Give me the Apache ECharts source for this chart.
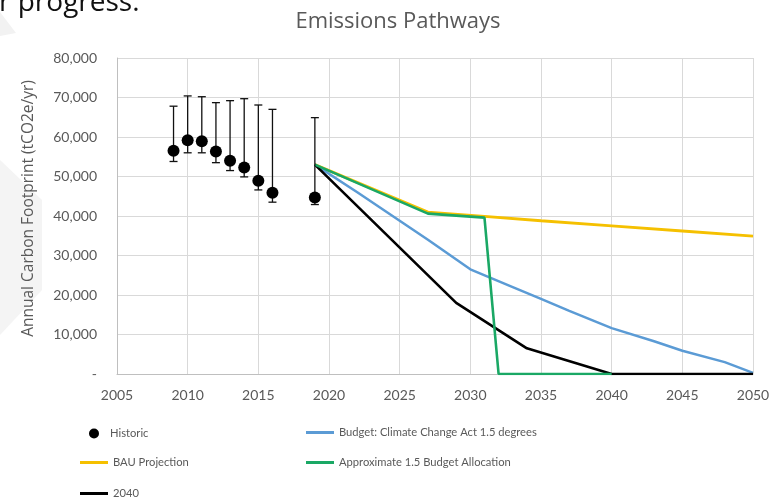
<!DOCTYPE html>
<html>
<head>
<meta charset="utf-8">
<script src="https://cdn.jsdelivr.net/npm/echarts@6/dist/echarts.min.js"></script>
<style>
html,body{margin:0;padding:0;background:#fff;}
#chart{width:780px;height:499px;}
</style>
</head>
<body>
<div id="chart"></div>
<script>
// ---- data ----
const chartTitle = 'Emissions Pathways';
const yAxisTitle = 'Annual Carbon Footprint (tCO2e/yr)';
const xTicks = [2005, 2010, 2015, 2020, 2025, 2030, 2035, 2040, 2045, 2050];

const historicYears  = [2009, 2010, 2011, 2012, 2013, 2014, 2015, 2016, 2019];
const historicValues = [56500, 59200, 58900, 56300, 54000, 52300, 48900, 45900, 44700];
const historicLow    = [53800, 56000, 56000, 53500, 51500, 49900, 46600, 43500, 42900];
const historicHigh   = [67800, 70400, 70200, 68700, 69200, 69700, 68100, 67000, 64900];

const bauYears  = [2019, 2027, 2031, 2035, 2040, 2045, 2050];
const bauValues = [53000, 41000, 39900, 38800, 37500, 36200, 34900];

const budgetYears  = [2019, 2022, 2024, 2027, 2030, 2033, 2035, 2037, 2040, 2043, 2045, 2048, 2050];
const budgetValues = [53000, 46000, 41200, 34000, 26500, 22000, 19000, 16000, 11600, 8300, 5900, 3000, 300];

const approxYears  = [2019, 2027, 2031, 2032, 2040];
const approxValues = [53000, 40600, 39600, 0, 0];

const path2040Years  = [2019, 2029, 2034, 2040, 2050];
const path2040Values = [53000, 18000, 6500, 0, 0];

const names = {
  historic: 'Historic',
  budget: 'Budget: Climate Change Act 1.5 degrees',
  bau: 'BAU Projection',
  approx: 'Approximate 1.5 Budget Allocation',
  p2040: '2040'
};

// ---- chart ----
const zip = (xs, ys) => xs.map((x, i) => [x, ys[i]]);
const gray = '#595959';
const chart = echarts.init(document.getElementById('chart'), null, {renderer: 'canvas'});

const legendText = {color: gray, fontFamily: 'Lato', fontSize: 11.2};
function lineLegend(name, left, top) {
  return {data: [name], left: left, top: top, icon: 'rect', itemWidth: 28, itemHeight: 3,
          textStyle: legendText, selectedMode: false, padding: 0};
}

const option = {
  animation: false,
  backgroundColor: '#fff',
  title: {
    text: chartTitle, left: 393, top: 6, textAlign: 'center',
    textStyle: {color: gray, fontFamily: 'Open Sans', fontSize: 22, fontWeight: 'normal'}
  },
  graphic: [
    {type: 'polygon', shape: {points: [[0, 160], [42, 200], [42, 290], [0, 335]]}, style: {fill: '#f4f4f4'}, z: -10},
    {type: 'polygon', shape: {points: [[0, 12], [16, 33], [0, 36]]}, style: {fill: '#f2f2f2'}, z: -10},
    {type: 'text', left: -1, top: -11, style: {text: 'r progress.', fill: '#111', font: '28px "Open Sans"'}}
  ],
  grid: {left: 117, right: 27, top: 58, bottom: 125},
  xAxis: {
    type: 'value', min: 2005, max: 2050, interval: 5,
    axisLine: {show: true, lineStyle: {color: '#bfbfbf'}},
    axisTick: {show: false},
    axisLabel: {color: gray, fontFamily: 'Lato', fontSize: 14, margin: 14,
                formatter: v => xTicks.includes(v) ? String(v) : ''},
    splitLine: {show: true, lineStyle: {color: '#d9d9d9'}}
  },
  yAxis: {
    type: 'value', min: 0, max: 80000, interval: 10000,
    name: yAxisTitle, nameLocation: 'middle', nameGap: 80,
    nameTextStyle: {color: gray, fontFamily: 'Open Sans', fontSize: 15.5, padding: [0, 0, 0, 15]},
    axisLine: {show: true, lineStyle: {color: '#bfbfbf'}},
    axisTick: {show: false},
    axisLabel: {color: gray, fontFamily: 'Lato', fontSize: 14, margin: 20,
                formatter: v => v === 0 ? '-' : v.toLocaleString('en-US')},
    splitLine: {show: true, lineStyle: {color: '#d9d9d9'}}
  },
  legend: [
    {data: [names.historic], left: 89, top: 428, icon: 'circle', itemWidth: 22, itemHeight: 10,
     textStyle: legendText, selectedMode: false, padding: 0},
    lineLegend(names.budget, 306, 427),
    lineLegend(names.bau, 80, 457),
    lineLegend(names.approx, 306, 457),
    lineLegend(names.p2040, 80, 488)
  ],
  series: [
    {
      type: 'custom',
      data: historicYears.map((y, i) => [y, historicLow[i], historicHigh[i]]),
      encode: {x: 0, y: [1, 2]},
      z: 3,
      renderItem: function (params, api) {
        const x = api.value(0);
        const lo = api.coord([x, api.value(1)]);
        const hi = api.coord([x, api.value(2)]);
        const hw = 4;
        const st = {stroke: '#111', lineWidth: 1.3};
        return {type: 'group', children: [
          {type: 'line', shape: {x1: lo[0], y1: lo[1], x2: hi[0], y2: hi[1]}, style: st},
          {type: 'line', shape: {x1: lo[0] - hw, y1: lo[1], x2: lo[0] + hw, y2: lo[1]}, style: st},
          {type: 'line', shape: {x1: hi[0] - hw, y1: hi[1], x2: hi[0] + hw, y2: hi[1]}, style: st}
        ]};
      }
    },
    {
      name: names.historic, type: 'scatter', data: zip(historicYears, historicValues),
      symbol: 'circle', symbolSize: 12, itemStyle: {color: '#000', opacity: 1}, z: 4
    },
    {
      name: names.bau, type: 'line', data: zip(bauYears, bauValues), showSymbol: false,
      lineStyle: {color: '#f5c000', width: 2.8}, itemStyle: {color: '#f5c000'}, z: 2
    },
    {
      name: names.budget, type: 'line', data: zip(budgetYears, budgetValues), showSymbol: false,
      lineStyle: {color: '#5b9bd5', width: 2.5}, itemStyle: {color: '#5b9bd5'}, z: 2
    },
    {
      name: names.p2040, type: 'line', data: zip(path2040Years, path2040Values), showSymbol: false,
      lineStyle: {color: '#000', width: 2.6}, itemStyle: {color: '#000'}, z: 2
    },
    {
      name: names.approx, type: 'line', data: zip(approxYears, approxValues), showSymbol: false,
      lineStyle: {color: '#1aa865', width: 2.6}, itemStyle: {color: '#1aa865'}, z: 2
    }
  ]
};
chart.setOption(option);
</script>
</body>
</html>
